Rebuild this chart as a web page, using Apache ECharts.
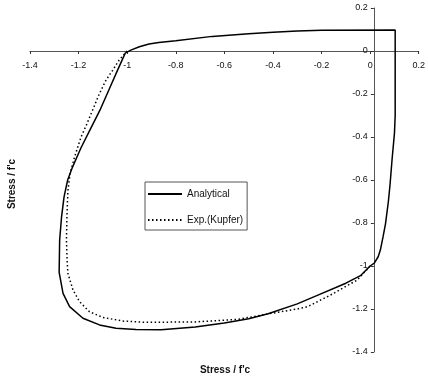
<!DOCTYPE html>
<html>
<head>
<meta charset="utf-8">
<script src="https://cdn.jsdelivr.net/npm/echarts@6/dist/echarts.min.js"></script>
<style>
html,body{margin:0;padding:0;background:#fff;}
#chart{width:428px;height:380px;}
</style>
</head>
<body>
<div id="chart"></div>
<script>
// Tick values
var xTicks = [-1.4, -1.2, -1, -0.8, -0.6, -0.4, -0.2, 0, 0.2];
var yTicks = [-1.4, -1.2, -1, -0.8, -0.6, -0.4, -0.2, 0, 0.2];

// Analytical (solid) – stress x, stress y (/f'c)
var analyticalX = [0, 0.017, 0.033, 0.042, 0.053, 0.063, 0.075, 0.082, 0.09, 0.1, 0.103, 0.103,
  -0.2, -0.3, -0.4, -0.5, -0.65, -0.8, -0.87, -0.91, -0.95, -0.985, -1.008,
  -1.04, -1.075, -1.11, -1.15, -1.19, -1.225, -1.245, -1.26, -1.27, -1.278, -1.28,
  -1.264, -1.237, -1.182, -1.114, -1.046, -0.964, -0.86, -0.72, -0.6, -0.5, -0.42, -0.3, -0.22, -0.1, -0.04, 0];
var analyticalY = [-1.0, -0.987, -0.957, -0.926, -0.865, -0.805, -0.7, -0.62, -0.507, -0.383, -0.3, 0.098,
  0.097, 0.093, 0.087, 0.08, 0.068, 0.048, 0.04, 0.033, 0.02, 0.004, -0.01,
  -0.09, -0.18, -0.27, -0.36, -0.45, -0.54, -0.6, -0.68, -0.77, -0.88, -1.03,
  -1.127, -1.189, -1.243, -1.274, -1.29, -1.295, -1.297, -1.284, -1.265, -1.245, -1.222, -1.176, -1.138, -1.08, -1.045, -1.0];

// Exp. (Kupfer) (dotted)
var expX = [-1.0, -1.033, -1.06, -1.087, -1.115, -1.142, -1.17, -1.19, -1.216, -1.235, -1.244, -1.248, -1.25, -1.247,
  -1.244, -1.223, -1.196, -1.155, -1.1, -1.019, -0.924, -0.72, -0.543, -0.42, -0.3, -0.257, -0.163, -0.053, 0];
var expY = [0.0, -0.042, -0.09, -0.135, -0.2, -0.274, -0.35, -0.4, -0.491, -0.569, -0.65, -0.77, -0.88, -0.98,
  -1.034, -1.112, -1.166, -1.213, -1.239, -1.256, -1.262, -1.26, -1.248, -1.223, -1.2, -1.189, -1.135, -1.065, -1.0];

function pairs(xs, ys) { return xs.map(function (x, i) { return [x, ys[i]]; }); }

var FONT = 'Liberation Sans, Arial, sans-serif';
var GRID = {left: 30, right: 5, top: 8, bottom: 28};
var W = 428, H = 380;
var chart = echarts.init(document.getElementById('chart'), null, {renderer: 'canvas'});
var fmt = function (v) { return String(+(+v).toFixed(1)); };

var xMin = xTicks[0], xMax = xTicks[xTicks.length - 1];
var yMin = yTicks[0], yMax = yTicks[yTicks.length - 1];
var plotW = W - GRID.left - GRID.right, plotH = H - GRID.top - GRID.bottom;
// shift the axes so they cross at zero (offset along the other axis)
var xAxisOffset = -plotH * (0 - yMin) / (yMax - yMin);
var yAxisOffset = -plotW * (0 - xMin) / (xMax - xMin);

chart.setOption({
  animation: false,
  backgroundColor: '#fff',
  grid: {left: GRID.left, right: GRID.right, top: GRID.top, bottom: GRID.bottom, containLabel: false},
  xAxis: {
    type: 'value', min: xMin, max: xMax, interval: 0.2, position: 'bottom', offset: xAxisOffset,
    axisLine: {onZero: false, lineStyle: {color: '#555', width: 1}},
    axisTick: {show: true, length: 3, lineStyle: {color: '#333'}},
    axisLabel: {formatter: fmt, fontSize: 9, color: '#111', fontFamily: FONT, margin: 10},
    splitLine: {show: false}
  },
  yAxis: {
    type: 'value', min: yMin, max: yMax, interval: 0.2, position: 'left', offset: yAxisOffset,
    axisLine: {onZero: false, lineStyle: {color: '#555', width: 1}},
    axisTick: {show: true, length: 3, lineStyle: {color: '#333'}},
    axisLabel: {formatter: fmt, fontSize: 9, color: '#111', fontFamily: FONT, margin: 6},
    splitLine: {show: false}
  },
  legend: {
    orient: 'vertical', left: 145, top: 182,
    padding: [7, 4, 5, 2], itemGap: 16, itemWidth: 34, itemHeight: 10,
    borderColor: '#555', borderWidth: 1,
    itemStyle: {opacity: 0},
    textStyle: {fontSize: 10, color: '#111', fontFamily: FONT},
    data: ['Analytical', 'Exp.(Kupfer)']
  },
  series: [
    {
      name: 'Analytical', type: 'line', data: pairs(analyticalX, analyticalY),
      showSymbol: false, symbol: 'none', smooth: false,
      lineStyle: {color: '#000', width: 1.5, type: 'solid'},
      itemStyle: {color: '#000'}, z: 3
    },
    {
      name: 'Exp.(Kupfer)', type: 'line', data: pairs(expX, expY),
      showSymbol: false, symbol: 'none', smooth: false,
      lineStyle: {color: '#000', width: 1.5, type: [1.5, 2.5]},
      itemStyle: {color: '#000'}, z: 2
    }
  ],
  graphic: [
    {type: 'text', x: 225, y: 370, style: {text: "Stress / f'c", fontSize: 10, fontWeight: 'bold', fontFamily: FONT, fill: '#111', textAlign: 'center', textVerticalAlign: 'middle'}},
    {type: 'text', x: 12, y: 184, rotation: Math.PI / 2, style: {text: "Stress / f'c", fontSize: 10, fontWeight: 'bold', fontFamily: FONT, fill: '#111', textAlign: 'center', textVerticalAlign: 'middle'}}
  ]
});
</script>
</body>
</html>
